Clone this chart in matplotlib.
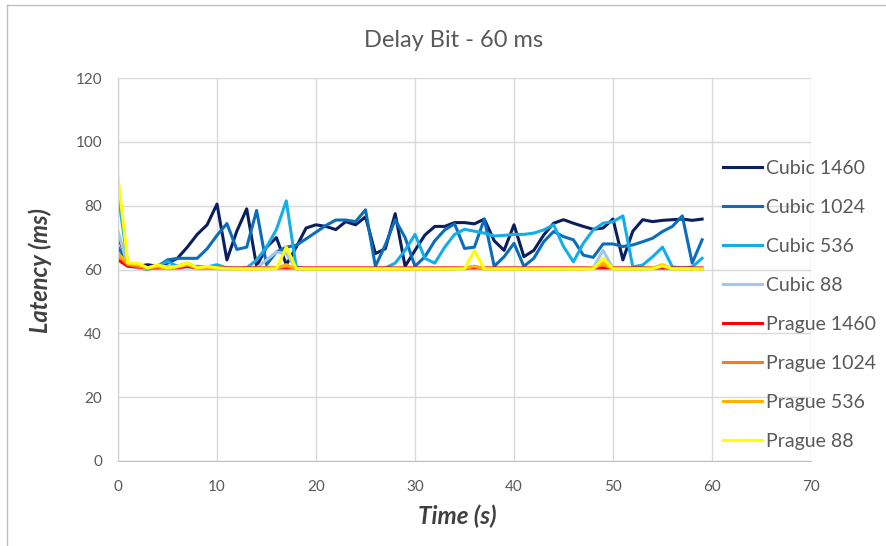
import matplotlib
matplotlib.use("Agg")
import matplotlib.pyplot as plt
from matplotlib.lines import Line2D

plt.rcParams['font.family'] = ['Lato', 'DejaVu Sans']

# time axis (s)
time_s = list(range(60))

cubic_1460 = [70.5, 62, 61, 61.5, 61, 62, 63.5, 67, 71, 74,
              80.5, 63, 72, 79, 61, 67, 70, 61.5, 67, 73,
              74, 73.5, 72.5, 75, 74, 76.5, 65, 66.5, 77.5, 61,
              66, 70.8, 73.5, 73.5, 74.7, 74.7, 74.3, 75.8, 69, 66,
              74, 64, 66, 70.8, 74.5, 75.6, 74.5, 73.5, 72.6, 73,
              75.8, 63, 72, 75.6, 75, 75.4, 75.6, 75.8, 75.4, 75.8]
cubic_1024 = [67, 62, 61, 60.5, 61, 63, 63.5, 63.5, 63.5, 66.5,
              70.7, 74.4, 66.3, 67, 78.5, 61.5, 65.5, 67, 67.6, 69.6,
              71.7, 73.8, 75.5, 75.5, 75, 78.7, 61, 67.7, 75.6, 70,
              61, 64, 69, 72.4, 74.3, 66.6, 67, 75.8, 61, 64,
              68.2, 61, 63.5, 68.7, 71.9, 70.3, 69.3, 64.5, 63.8, 68,
              68, 67.2, 67.7, 68.7, 69.8, 71.9, 73.5, 76.8, 62, 69.3]
cubic_536 = [84, 61.5, 60.5, 60, 61, 62.5, 61, 60.8, 61, 60.8,
             61.5, 60.5, 60.3, 60.5, 63, 67, 72.5, 81.5, 60.8, 60.3,
             60.2, 60.2, 60.2, 60.2, 60.2, 60.3, 60.3, 60.5, 62, 66,
             71, 63.5, 62, 67, 71, 72.6, 72, 71.4, 70.5, 70.7,
             71, 71, 71.4, 72.4, 74, 67.2, 62.4, 68.2, 72.4, 74.5,
             75, 76.8, 60.8, 61.4, 64, 67, 60.8, 60.5, 60.8, 63.5]
cubic_88 = [72, 61, 60.5, 60.2, 60.5, 61, 60.5, 60.5, 60.5, 60.5,
            60.3, 60.2, 60.2, 60.3, 60.5, 63, 65.5, 65, 60.3, 60.2,
            60.2, 60.2, 60.2, 60.2, 60.2, 60.2, 60.2, 60.2, 60.2, 60.2,
            60.2, 60.2, 60.2, 60.2, 60.2, 60.2, 60.8, 60.2, 60.2, 60.2,
            60.2, 60.2, 60.2, 60.2, 60.2, 60.2, 60.2, 60.2, 60.5, 66,
            60.3, 60.2, 60.2, 60.2, 60.2, 60.2, 60.2, 60.2, 60.2, 60.2]
prague_1460 = [63, 61, 60.8, 60.5, 60.5, 60.5, 60.5, 61, 60.5, 60.5,
               60.5, 60.5, 60.5, 60.5, 60.5, 60.5, 60.5, 60.5, 60.5, 60.5,
               60.5, 60.5, 60.5, 60.5, 60.5, 60.5, 60.5, 60.5, 60.5, 60.5,
               60.5, 60.5, 60.5, 60.5, 60.5, 60.5, 60.5, 60.5, 60.5, 60.5,
               60.5, 60.5, 60.5, 60.5, 60.5, 60.5, 60.5, 60.5, 60.5, 60.5,
               60.5, 60.5, 60.5, 60.5, 60.5, 60.5, 60.5, 60.5, 60.5, 60.5]
prague_1024 = [64.5, 61.5, 61, 60.5, 60.8, 60.5, 61, 62, 60.5, 60.8,
               60.5, 60.3, 60.3, 60.3, 60.3, 60.3, 60.5, 61, 60.3, 60.3,
               60.3, 60.3, 60.3, 60.3, 60.3, 60.3, 60.3, 60.3, 60.3, 60.3,
               60.3, 60.3, 60.3, 60.3, 60.3, 60.5, 61, 60.3, 60.3, 60.3,
               60.3, 60.3, 60.3, 60.3, 60.3, 60.3, 60.5, 60.3, 60.5, 61.5,
               60.3, 60.3, 60.3, 60.3, 60.5, 61, 60.3, 60.3, 60.3, 60.3]
prague_536 = [65, 62, 61.5, 60.5, 61, 60.3, 60.8, 61.5, 60.5, 60.5,
              60.3, 60.2, 60.2, 60.2, 60.2, 60.3, 60.5, 61.5, 60.2, 60.2,
              60.2, 60.2, 60.2, 60.2, 60.2, 60.2, 60.2, 60.2, 60.2, 60.2,
              60.2, 60.2, 60.2, 60.2, 60.2, 60.5, 61, 60.2, 60.2, 60.2,
              60.2, 60.2, 60.2, 60.2, 60.2, 60.2, 60.2, 60.2, 60.5, 62,
              60.2, 60.2, 60.2, 60.2, 60.5, 61.5, 60.2, 60.2, 60.2, 60.2]
prague_88 = [89, 62, 62, 60.5, 61.5, 60.5, 61, 62, 60.5, 61,
             60.5, 60.3, 60.2, 60.2, 60.2, 60.2, 60.3, 67, 60.3, 60.2,
             60.2, 60.2, 60.2, 60.2, 60.2, 60.2, 60.2, 60.2, 60.2, 60.2,
             60.2, 60.2, 60.2, 60.2, 60.2, 60.2, 66, 60.2, 60.2, 60.2,
             60.2, 60.2, 60.2, 60.2, 60.2, 60.2, 60.2, 60.2, 60.2, 63.5,
             60.2, 60.2, 60.2, 60.2, 60.2, 61.2, 60.2, 60.2, 60.2, 60.2]

series_names = ['Cubic 1460', 'Cubic 1024', 'Cubic 536', 'Cubic 88',
                'Prague 1460', 'Prague 1024', 'Prague 536', 'Prague 88']
series_data = [cubic_1460, cubic_1024, cubic_536, cubic_88,
               prague_1460, prague_1024, prague_536, prague_88]
colors = ['#0B1F5E', '#0A6DBD', '#12AEEA', '#A4C6E8',
          '#FF0000', '#F97A1E', '#FFB300', '#FFFF00']

fig = plt.figure(figsize=(8.86, 5.46), dpi=100)
ax = fig.add_axes([118/886, 1-461/546, (811-118)/886, (461-78)/546])

for name, vals, c in zip(series_names, series_data, colors):
    ax.plot(time_s, vals, color=c, lw=2.2, label=name, solid_joinstyle='round')

ax.set_xlim(0, 70)
ax.set_ylim(0, 120)
ax.set_xticks(range(0, 71, 10))
ax.set_yticks(range(0, 121, 20))
ax.grid(True, color='#D9D9D9', lw=1)
ax.set_axisbelow(True)
for s in ['top', 'right']:
    ax.spines[s].set_visible(False)
ax.spines['bottom'].set_color('#BFBFBF')
ax.spines['left'].set_color('#D0D0D0')
ax.tick_params(length=0, labelsize=11, labelcolor='#595959')
ax.tick_params(axis='y', pad=11.5)
ax.tick_params(axis='x', pad=14)

fig.text(0.512, 0.925, 'Delay Bit - 60 ms', ha='center', va='center',
         fontsize=17, color='#595959')
fig.text(0.516, 0.054, 'Time (s)', ha='center', va='center', fontsize=17.5,
         fontweight='bold', fontstyle='italic', color='#404040')
fig.text(0.045, 0.505, 'Latency (ms)', ha='center', va='center', fontsize=17,
         fontweight='bold', fontstyle='italic', color='#404040', rotation=90)

leg = fig.legend(loc='upper left', bbox_to_anchor=(715/886, 1-152/546),
                 frameon=False, fontsize=14, handlelength=2.0,
                 handletextpad=0.2, labelspacing=1.13, borderaxespad=0)
for t in leg.get_texts():
    t.set_color('#595959')

# chart border
fig.add_artist(Line2D([7/886, 7/886], [0, 1-5/546], color='#BFBFBF', lw=1))
fig.add_artist(Line2D([7/886, 1], [1-5/546, 1-5/546], color='#BFBFBF', lw=1))

fig.savefig('out.png', dpi=100)
